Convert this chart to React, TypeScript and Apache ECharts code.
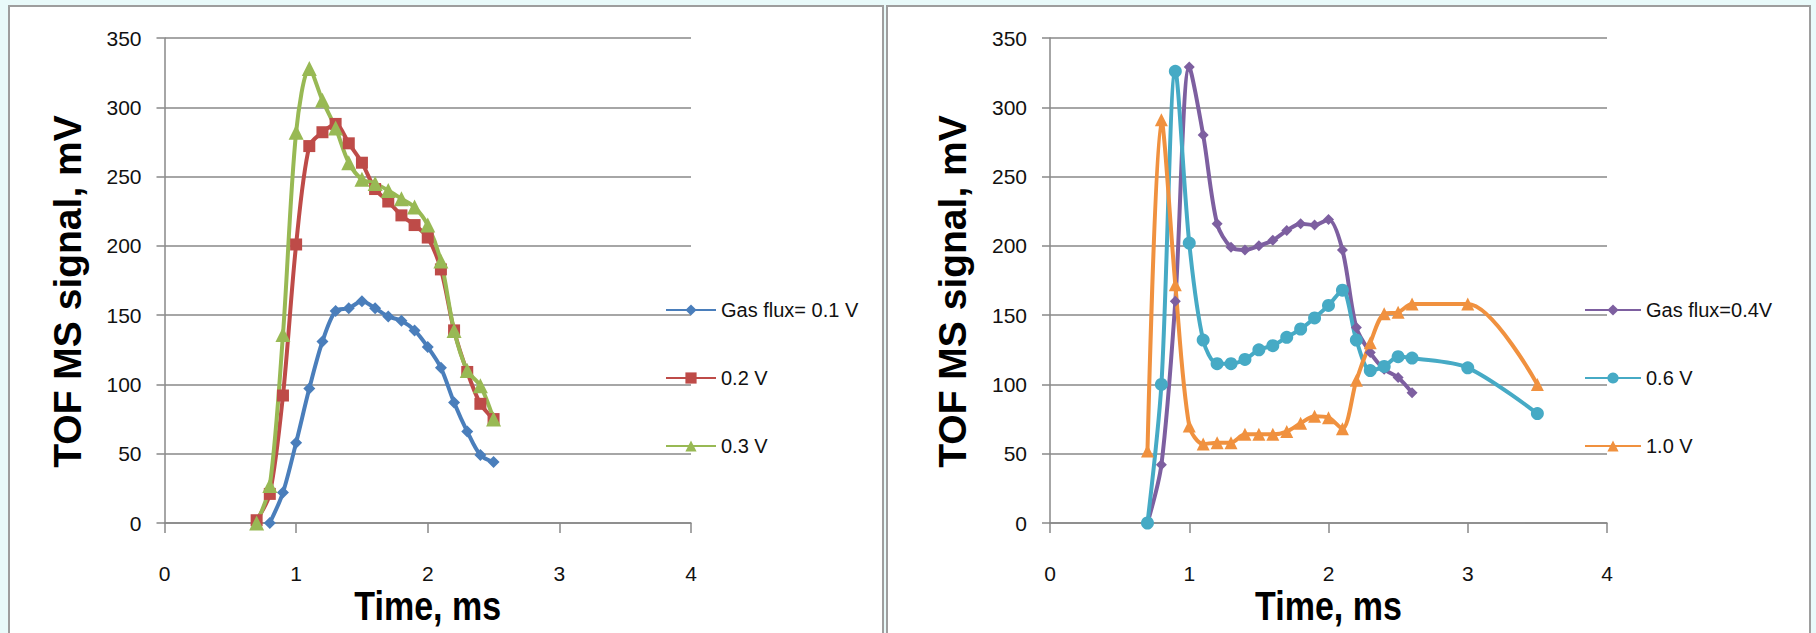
import React, { useEffect, useRef } from "react";
import * as echarts from "echarts";

// Sampling times (ms)
const timeFrom07 = [0.7, 0.8, 0.9, 1.0, 1.1, 1.2, 1.3, 1.4, 1.5, 1.6, 1.7, 1.8, 1.9, 2.0, 2.1, 2.2, 2.3, 2.4, 2.5];
const timeFrom08 = [0.8, 0.9, 1.0, 1.1, 1.2, 1.3, 1.4, 1.5, 1.6, 1.7, 1.8, 1.9, 2.0, 2.1, 2.2, 2.3, 2.4, 2.5];
const timeTo26 = [0.7, 0.8, 0.9, 1.0, 1.1, 1.2, 1.3, 1.4, 1.5, 1.6, 1.7, 1.8, 1.9, 2.0, 2.1, 2.2, 2.3, 2.4, 2.5, 2.6];
const timeTo35 = [0.7, 0.8, 0.9, 1.0, 1.1, 1.2, 1.3, 1.4, 1.5, 1.6, 1.7, 1.8, 1.9, 2.0, 2.1, 2.2, 2.3, 2.4, 2.5, 2.6, 3.0, 3.5];

// TOF MS signal (mV), low gas flux
const flux01 = [0, 22, 58, 97, 131, 153, 155, 160, 155, 149, 146, 139, 127, 112, 87, 66, 49, 44];
const flux02 = [2, 21, 92, 201, 272, 282, 288, 274, 260, 241, 232, 222, 215, 206, 183, 139, 109, 86, 75];
const flux03 = [0, 27, 136, 282, 328, 305, 285, 260, 248, 245, 240, 234, 228, 215, 189, 139, 110, 99, 75];

// TOF MS signal (mV), high gas flux
const flux04 = [0, 42, 160, 329, 280, 216, 199, 197, 200, 204, 211, 216, 215, 219, 197, 141, 123, 111, 105, 94];
const flux06 = [0, 100, 326, 202, 132, 115, 115, 118, 125, 128, 134, 140, 148, 157, 168, 132, 110, 113, 120, 119, 112, 79];
const flux10 = [52, 291, 172, 70, 57, 58, 58, 64, 64, 64, 66, 72, 77, 76, 68, 103, 130, 151, 152, 158, 158, 100];

const leftNames = ["Gas flux= 0.1 V", "0.2 V", "0.3 V"];
const rightNames = ["Gas flux=0.4V", "0.6 V", "1.0 V"];

const yTitle = "TOF MS signal, mV";
const xTitle = "Time, ms";

const pairs = (t: number[], v: number[]) => t.map((x, i) => [x, v[i]]);

const AXIS_GREY = "#888888";
const REG = "'Liberation Sans', Arial, sans-serif";

// plot areas (pixels)
const LEFT_GRID = { left: 164.5, top: 38, width: 526.5, height: 485 };
const RIGHT_GRID = { left: 1050, top: 38, width: 557, height: 485 };

function xAxisFor(gridIndex: number) {
  return {
    type: "value",
    gridIndex,
    min: 0,
    max: 4,
    interval: 1,
    axisLine: { show: true, onZero: false, lineStyle: { color: AXIS_GREY, width: 1.5 } },
    axisTick: { show: true, inside: false, length: 10, lineStyle: { color: AXIS_GREY, width: 1.5 } },
    axisLabel: { margin: 40, fontSize: 21, color: "#111", fontFamily: REG },
    splitLine: { show: false },
  };
}

function yAxisFor(gridIndex: number) {
  return {
    type: "value",
    gridIndex,
    min: 0,
    max: 350,
    interval: 50,
    name: yTitle,
    nameLocation: "middle",
    nameRotate: 90,
    nameGap: 78,
    nameTextStyle: {
      fontFamily: REG,
      fontWeight: "bold",
      fontSize: 39,
      color: "#000",
      padding: [0, 22, 0, 0],
    },
    axisLine: { show: true, lineStyle: { color: AXIS_GREY, width: 1.5 } },
    axisTick: { show: true, inside: false, length: 8, lineStyle: { color: AXIS_GREY, width: 1.5 } },
    axisLabel: { margin: 23, fontSize: 21, color: "#111", fontFamily: REG },
    splitLine: { show: true, lineStyle: { color: AXIS_GREY, width: 1.5 } },
  };
}

// x-axis title: bold, drawn slightly tall and narrow
function xTitleText(grid: { left: number; width: number }) {
  return {
    type: "text",
    x: grid.left + grid.width / 2,
    y: 606,
    scaleY: 1.2,
    silent: true,
    style: {
      text: xTitle,
      fontFamily: REG,
      fontWeight: "bold",
      fontSize: 34,
      fill: "#000",
      align: "center",
      verticalAlign: "middle",
    },
  };
}

function lineSeries(
  name: string,
  axis: number,
  t: number[],
  v: number[],
  color: string,
  symbol: string,
  symbolSize: number
) {
  return {
    type: "line",
    name,
    xAxisIndex: axis,
    yAxisIndex: axis,
    data: pairs(t, v),
    smooth: 0.3,
    symbol,
    symbolSize,
    showAllSymbol: true,
    lineStyle: { width: 4, color },
    itemStyle: { color, borderWidth: 0 },
    emphasis: { disabled: true },
  };
}

function legendFor(left: number, names: string[], itemWidth: number) {
  return {
    orient: "vertical",
    left,
    top: 293,
    itemWidth,
    itemHeight: 14,
    itemGap: 44,
    selectedMode: false,
    textStyle: { fontSize: 20, lineHeight: 24, fontFamily: REG, color: "#111" },
    data: names,
  };
}

export default function App() {
  const ref = useRef<HTMLDivElement>(null);

  useEffect(() => {
    const chart = echarts.init(ref.current!, null, { renderer: "svg" });
    chart.setOption({
      animation: false,
      backgroundColor: "#e9fafa",
      graphic: [
        {
          type: "rect",
          z: -10,
          silent: true,
          shape: { x: 9, y: 6, width: 874, height: 640 },
          style: { fill: "#ffffff", stroke: "#9e9e9e", lineWidth: 2 },
        },
        {
          type: "rect",
          z: -10,
          silent: true,
          shape: { x: 887, y: 6, width: 923, height: 640 },
          style: { fill: "#ffffff", stroke: "#9e9e9e", lineWidth: 2 },
        },
        xTitleText(LEFT_GRID),
        xTitleText(RIGHT_GRID),
      ],
      grid: [
        { ...LEFT_GRID, containLabel: false },
        { ...RIGHT_GRID, containLabel: false },
      ],
      xAxis: [xAxisFor(0), xAxisFor(1)],
      yAxis: [yAxisFor(0), yAxisFor(1)],
      legend: [legendFor(660, leftNames, 50), legendFor(1579, rightNames, 56)],
      series: [
        lineSeries(leftNames[0], 0, timeFrom08, flux01, "#4a7ebb", "diamond", 12),
        lineSeries(leftNames[1], 0, timeFrom07, flux02, "#be4b48", "rect", 12),
        lineSeries(leftNames[2], 0, timeFrom07, flux03, "#98b954", "triangle", 15),
        lineSeries(rightNames[0], 1, timeTo26, flux04, "#7d5fa0", "diamond", 11),
        lineSeries(rightNames[1], 1, timeTo35, flux06, "#46aac5", "circle", 13),
        lineSeries(rightNames[2], 1, timeTo35, flux10, "#f0913f", "triangle", 13),
      ],
    });
    return () => chart.dispose();
  }, []);

  return (
    <div
      ref={ref}
      style={{ position: "absolute", left: 0, top: 0, width: 1816, height: 633 }}
    />
  );
}
